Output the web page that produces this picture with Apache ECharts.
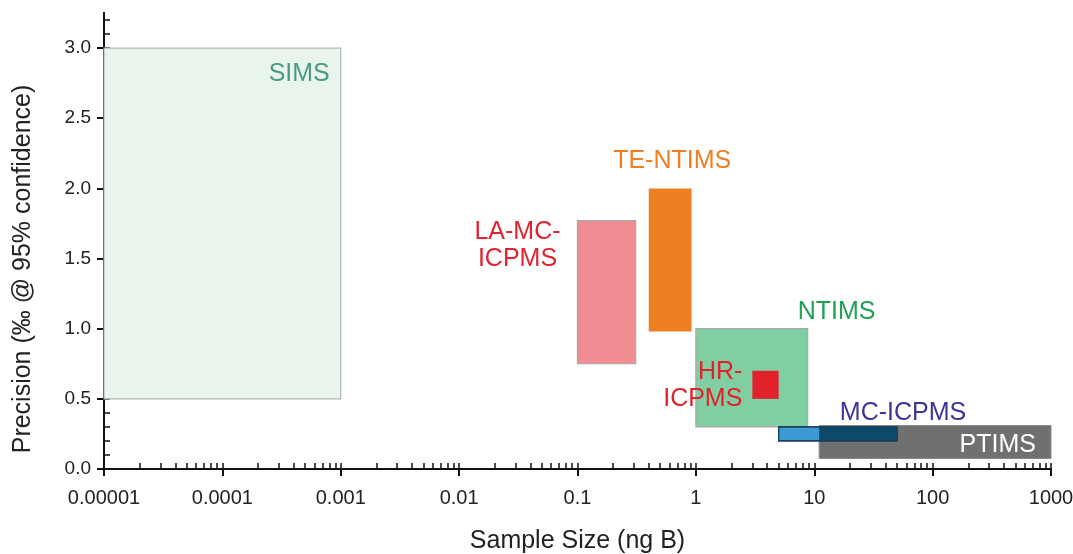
<!DOCTYPE html>
<html>
<head>
<meta charset="utf-8">
<script src="https://cdn.jsdelivr.net/npm/echarts@6/dist/echarts.min.js"></script>
<style>html,body{margin:0;padding:0;background:#fff}#chart{width:1073px;height:554px}</style>
</head>
<body>
<div id="chart"></div>
<script>
// ---- data ----
var methods = ['SIMS', 'LA-MC-ICPMS', 'TE-NTIMS', 'NTIMS', 'HR-ICPMS', 'PTIMS', 'MC-ICPMS'];
var sizeLow  = [0.00001, 0.1, 0.4, 1, 3, 11, 5];      // ng B
var sizeHigh = [0.001, 0.31, 0.92, 8.8, 5, 1000, 50];  // ng B
var precLow  = [0.5, 0.75, 0.98, 0.3, 0.5, 0.075, 0.2]; // ‰
var precHigh = [3.0, 1.77, 2.0, 1.0, 0.7, 0.31, 0.3];   // ‰
var xTickLabels = ['0.00001', '0.0001', '0.001', '0.01', '0.1', '1', '10', '100', '1000'];
var yTickLabels = ['0.0', '0.5', '1.0', '1.5', '2.0', '2.5', '3.0'];

// ---- styles ----
var FONT = '"Liberation Sans", Arial, sans-serif';
var LABEL_SIZE = 25;
var styles = {
  'SIMS':        {fill: '#e9f4ec', stroke: '#b5b5b5', lineWidth: 1.2, text: 'SIMS', color: '#4c9a84', ax: 'right', ay: 'top', dx: -11, dy: 26, align: 'right'},
  'LA-MC-ICPMS': {fill: '#ef8d92', stroke: '#a8a8a8', lineWidth: 1.2, text: 'LA-MC-\nICPMS', color: '#e0242f', ax: 'left', ay: 'top', dx: -60, dy: 25, align: 'center'},
  'TE-NTIMS':    {fill: '#ee7f22', stroke: null, text: 'TE-NTIMS', color: '#ee7f22', ax: 'center', ay: 'top', dx: 2, dy: -27, align: 'center'},
  'NTIMS':       {fill: '#80cea2', stroke: '#a8a8a8', lineWidth: 1.2, text: 'NTIMS', color: '#1ea055', ax: 'right', ay: 'top', dx: -10, dy: -17, align: 'left'},
  'HR-ICPMS':    {fill: '#e1222b', stroke: null, text: 'HR-\nICPMS', color: '#e1222b', ax: 'left', ay: 'center', dx: -10, dy: 1, align: 'right'},
  'PTIMS':       {fill: '#707070', stroke: '#8a8a8a', lineWidth: 1, text: 'PTIMS', color: '#ffffff', ax: 'right', ay: 'center', dx: -15, dy: 3, align: 'right'},
  'MC-ICPMS':    {fill: '#3b9ad4', stroke: '#1d3c55', lineWidth: 1.2, text: 'MC-ICPMS', color: '#3c3597', ax: 'right', ay: 'top', dx: 6, dy: -14, align: 'center', overlapWith: 'PTIMS', overlapFill: '#0d4a6a'}
};

var rows = methods.map(function (m, i) { return [sizeLow[i], sizeHigh[i], precLow[i], precHigh[i], i]; });

var xMinorTicks = [], xMajorTicks = [];
for (var e = -5; e <= 3; e++) {
  xMajorTicks.push(Math.pow(10, e));
  if (e < 3) for (var k = 2; k <= 9; k++) xMinorTicks.push(k * Math.pow(10, e));
}
var yMinorTicks = [];
for (var t = 0; t <= 32; t++) yMinorTicks.push(t / 10);
var yMajorTicks = yTickLabels.map(function (s) { return parseFloat(s); });

var AXIS_COLOR = '#111';
var gridRect = {left: 104, right: 22, top: 13, bottom: 85, outerBoundsMode: 'none', containLabel: false};

function renderItem(params, api) {
  var idx = api.value(4);
  var st = styles[methods[idx]];
  var p1 = api.coord([api.value(0), api.value(3)]);
  var p2 = api.coord([api.value(1), api.value(2)]);
  var x = p1[0], y = p1[1], w = p2[0] - p1[0], h = p2[1] - p1[1];
  var rectStyle = {fill: st.fill};
  if (st.stroke) { rectStyle.stroke = st.stroke; rectStyle.lineWidth = st.lineWidth; }
  var ax = st.ax === 'left' ? x : (st.ax === 'right' ? x + w : x + w / 2);
  var ay = st.ay === 'top' ? y : (st.ay === 'bottom' ? y + h : y + h / 2);
  var children = [{type: 'rect', shape: {x: x, y: y, width: w, height: h}, style: rectStyle}];
  if (st.overlapWith) {
    // darker area where this box overlaps another (as in a multiply blend)
    var j = methods.indexOf(st.overlapWith);
    var lo = [Math.max(api.value(0), sizeLow[j]), Math.max(api.value(2), precLow[j])];
    var hi = [Math.min(api.value(1), sizeHigh[j]), Math.min(api.value(3), precHigh[j])];
    if (lo[0] < hi[0] && lo[1] < hi[1]) {
      var q1 = api.coord([lo[0], hi[1]]);
      var q2 = api.coord([hi[0], lo[1]]);
      children.push({type: 'rect', shape: {x: q1[0], y: q1[1], width: q2[0] - q1[0], height: q2[1] - q1[1]}, style: {fill: st.overlapFill}});
      children.push({type: 'rect', shape: {x: x, y: y, width: w, height: h}, style: {fill: null, stroke: st.stroke, lineWidth: st.lineWidth}});
    }
  }
  children.push({type: 'text', z2: 10, style: {
    text: st.text, x: ax + st.dx, y: ay + st.dy, fill: st.color,
    font: LABEL_SIZE + 'px ' + FONT, lineHeight: 27, align: st.align, verticalAlign: 'middle'
  }});
  return {type: 'group', children: children};
}

var chart = echarts.init(document.getElementById('chart'), null, {renderer: 'canvas'});
var option = {
  backgroundColor: '#ffffff',
  animation: false,
  grid: [
    Object.assign({}, gridRect),
    Object.assign({}, gridRect)
  ],
  xAxis: [
    {
      type: 'log', gridIndex: 0, min: 0.00001, max: 1000, logBase: 10,
      axisLine: {show: true, lineStyle: {color: AXIS_COLOR, width: 2}},
      axisTick: {show: true, inside: true, length: 6, customValues: xMajorTicks.concat(xMinorTicks), lineStyle: {color: AXIS_COLOR, width: 1.5}},
      axisLabel: {show: false},
      splitLine: {show: false}
    },
    {
      type: 'log', gridIndex: 1, min: 0.00001, max: 1000, logBase: 10,
      axisLine: {show: true, lineStyle: {color: AXIS_COLOR, width: 2}},
      axisTick: {show: true, inside: false, length: 7, customValues: xMajorTicks, lineStyle: {color: AXIS_COLOR, width: 2}},
      axisLabel: {
        show: true, customValues: xMajorTicks, margin: 19, color: '#222', fontSize: 20, fontFamily: FONT,
        formatter: function (v) { return xTickLabels[Math.round(Math.log10(v)) + 5]; }
      },
      splitLine: {show: false},
      name: 'Sample Size (ng B)', nameLocation: 'middle', nameGap: 60,
      nameTextStyle: {color: '#222', fontSize: 25, fontFamily: FONT}
    }
  ],
  yAxis: [
    {
      type: 'value', gridIndex: 0, min: 0, max: 3.25,
      axisLine: {show: true, lineStyle: {color: AXIS_COLOR, width: 2}},
      axisTick: {show: true, inside: true, length: 6, customValues: yMinorTicks, lineStyle: {color: AXIS_COLOR, width: 1.5}},
      axisLabel: {show: false},
      splitLine: {show: false}
    },
    {
      type: 'value', gridIndex: 1, min: 0, max: 3.25,
      axisLine: {show: true, lineStyle: {color: AXIS_COLOR, width: 2}},
      axisTick: {show: true, inside: false, length: 7, customValues: yMajorTicks, lineStyle: {color: AXIS_COLOR, width: 2}},
      axisLabel: {
        show: true, customValues: yMajorTicks, margin: 13, color: '#222', fontSize: 19, fontFamily: FONT,
        formatter: function (v) { return yTickLabels[Math.round(v * 2)]; }
      },
      splitLine: {show: false}
    }
  ],
  graphic: [{
    type: 'text', x: 23, y: 269, rotation: Math.PI / 2,
    style: {text: 'Precision (‰ @ 95% confidence)', fill: '#222', font: '25px ' + FONT, align: 'center', verticalAlign: 'middle'}
  }],
  series: [{
    type: 'custom', xAxisIndex: 0, yAxisIndex: 0,
    renderItem: renderItem,
    encode: {x: [0, 1], y: [2, 3]},
    data: rows,
    clip: false
  }]
};
chart.setOption(option);
</script>
</body>
</html>
